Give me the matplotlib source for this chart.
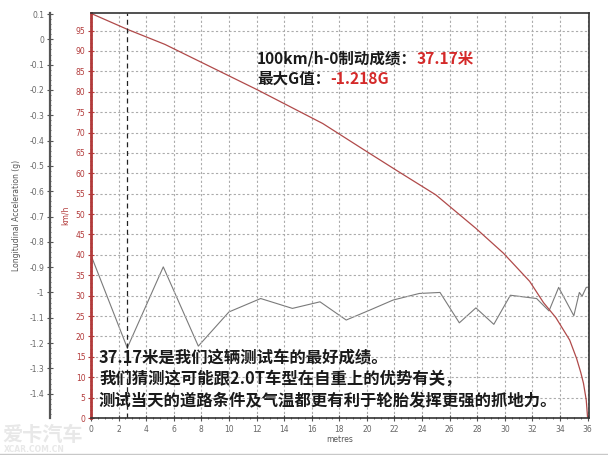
import matplotlib
matplotlib.use("Agg")
import matplotlib.pyplot as plt
from matplotlib.ticker import MultipleLocator, FuncFormatter
from matplotlib.lines import Line2D

plt.rcParams['axes.unicode_minus'] = False

# ---- data ----
speed_dist = [0, 2.63, 5.36, 12.1, 16.8, 20.0, 22.2, 25.0, 27.9, 29.9, 31.8, 32.8,
              33.7, 34.7, 35.2, 35.5, 35.7, 35.9, 36.0]
speed_kmh = [99.2, 95.3, 91.6, 80.4, 72.2, 65.3, 60.6, 54.7, 46.5, 40.4, 33.5, 28.3,
             24.6, 19.1, 14.6, 11.2, 8.5, 4.4, 0.0]

acc_dist = [0, 2.63, 5.24, 7.78, 10.0, 12.3, 14.6, 16.6, 18.5, 20.2, 21.9, 23.8, 25.3,
            26.7, 27.9, 29.2, 30.4, 32.3, 33.2, 33.9, 35.0, 35.4, 35.6, 35.9, 36.2]
acc_g = [-0.853, -1.219, -0.899, -1.212, -1.077, -1.024, -1.063, -1.037, -1.109, -1.070,
         -1.030, -1.004, -1.000, -1.120, -1.061, -1.126, -1.011, -1.024, -1.073, -0.980,
         -1.092, -1.000, -1.015, -0.980, -0.978]

cursor_dist = 2.63

title_black = "100km/h-0制动成绩："
title_red = "37.17米"
maxg_black = "最大G值："
maxg_red = "-1.218G"
notes = ["37.17米是我们这辆测试车的最好成绩。",
         "我们猜测这可能跟2.0T车型在自重上的优势有关，",
         "测试当天的道路条件及气温都更有利于轮胎发挥更强的抓地力。"]

W, H = 608, 455
RED_AX = '#b23a3a'
TICK_GRAY = '#666666'

fig = plt.figure(figsize=(W / 100, H / 100), dpi=100)
fig.patch.set_facecolor('white')

ax = fig.add_axes([91 / W, 1 - 418 / H, 498 / W, 405 / H])
ax2 = ax.twinx()

# speed axis (plot-left, red)
ax.set_xlim(0, 36.1)
ax.set_ylim(0, 99.3)
ax.yaxis.set_major_locator(MultipleLocator(5))
ax.yaxis.set_minor_locator(MultipleLocator(1))
ax.xaxis.set_major_locator(MultipleLocator(2))
ax.xaxis.set_minor_locator(MultipleLocator(0.5))
ax.grid(True, which='major', color='#ababab', linestyle=(0, (2, 2)), linewidth=0.8)
ax.set_axisbelow(True)
ax.spines['left'].set_color(RED_AX)
ax.spines['left'].set_linewidth(2)
for s in ['top', 'right', 'bottom']:
    ax.spines[s].set_color('#333333')
    ax.spines[s].set_linewidth(1.2)
ax.tick_params(axis='y', which='major', direction='inout', length=4, width=0.8,
               colors=RED_AX, labelsize=5.5, pad=2)
ax.tick_params(axis='y', which='minor', direction='inout', length=2, width=0.6, colors=RED_AX)
ax.tick_params(axis='x', which='major', direction='inout', length=4, width=0.8,
               colors='#555555', labelsize=5.5, labelcolor=TICK_GRAY, pad=3)
ax.tick_params(axis='x', which='minor', direction='inout', length=2, width=0.6, colors='#555555')
ax.set_ylabel('km/h', color=RED_AX, fontsize=5.5, labelpad=4)
ax.set_xlabel('metres', color='#555555', fontsize=5.5, labelpad=1)

# acceleration axis (offset left)
ax2.set_ylim(-1.496, 0.104)
ax2.yaxis.tick_left()
ax2.yaxis.set_label_position('left')
ax2.spines['right'].set_visible(False)
ax2.spines['top'].set_visible(False)
ax2.spines['bottom'].set_visible(False)
ax2.spines['left'].set_visible(True)
ax2.spines['left'].set_position(('outward', 41 * 0.72))
ax2.spines['left'].set_color('#555555')
ax2.spines['left'].set_linewidth(1.6)
ax2.yaxis.set_major_locator(MultipleLocator(0.1))
ax2.yaxis.set_minor_locator(MultipleLocator(0.02))
ax2.yaxis.set_major_formatter(FuncFormatter(lambda v, p: ('%g' % round(v, 2)) if abs(v) > 1e-9 else '0'))
ax2.tick_params(axis='y', which='major', direction='inout', length=4, width=0.8,
                colors='#555555', labelcolor=TICK_GRAY, labelsize=5.5, pad=2)
ax2.tick_params(axis='y', which='minor', direction='inout', length=2, width=0.6, colors='#555555')
ax2.set_ylabel('Longitudinal Acceleration (g)', color='#555555', fontsize=5.5, labelpad=6)

ax.set_zorder(ax2.get_zorder() + 1)
ax.patch.set_visible(False)

ax2.plot(acc_dist, acc_g, color='#7a7a7a', linewidth=0.8)
ax.plot(speed_dist, speed_kmh, color='#b04a4a', linewidth=0.9)
ax.axvline(cursor_dist, color='#222222', linestyle=(0, (4, 3)), linewidth=0.9)

# ---- texts ----
cjk = ['Noto Sans CJK SC', 'DejaVu Sans']
fig.canvas.draw()
renderer = fig.canvas.get_renderer()


def two_color(x_px, y_px, black, red, size):
    t1 = fig.text(x_px / W, 1 - y_px / H, black, color='#1a1a1a', fontsize=size,
                  fontweight='bold', family=cjk, va='baseline', ha='left')
    bb = t1.get_window_extent(renderer)
    fig.text(bb.x1 / W, 1 - y_px / H, red, color='#d42a2a', fontsize=size,
             fontweight='bold', family=cjk, va='baseline', ha='left')


two_color(257, 64, title_black, title_red, 11.2)
two_color(257, 84, maxg_black, maxg_red, 11.2)

for i, line in enumerate(notes):
    fig.text(99 / W, 1 - (362 + 22 * i) / H, line, color='#1a1a1a', fontsize=11.8,
             fontweight='bold', family=cjk, va='baseline', ha='left')

# watermark
fig.text(2 / W, 1 - 441 / H, '爱卡汽车', color='#e8e8e8', fontsize=14.5, fontweight='bold',
         family=cjk, va='baseline', ha='left')
fig.text(4 / W, 1 - 452 / H, 'XCAR.COM.CN', color='#e8e8e8', fontsize=5.5, fontweight='bold',
         va='baseline', ha='left')
fig.add_artist(Line2D([0, 1], [1 - 453.5 / H, 1 - 453.5 / H], color='#c8c8c8', linewidth=1))

fig.savefig('out.png', dpi=100)
